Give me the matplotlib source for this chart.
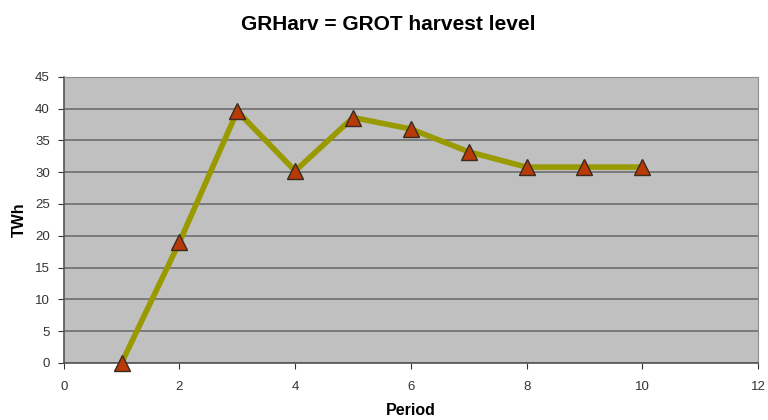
import matplotlib.pyplot as plt

# GROT harvest level per period (TWh)
period = [1, 2, 3, 4, 5, 6, 7, 8, 9, 10]
twh = [0, 19, 39.6, 30.2, 38.6, 36.8, 33.2, 30.8, 30.8, 30.8]

xticks = [0, 2, 4, 6, 8, 10, 12]
yticks = [0, 5, 10, 15, 20, 25, 30, 35, 40, 45]

plt.rcParams['font.family'] = ['Liberation Sans', 'DejaVu Sans']

fig = plt.figure(figsize=(7.68, 4.2), dpi=100)
ax = fig.add_axes([0.083, 0.136, 0.904, 0.681])
ax.set_facecolor('#c0c0c0')

ax.plot(period, twh, color='#999900', lw=4, marker='^', markersize=12,
        markerfacecolor='#b83a06', markeredgecolor='#3a2a20', markeredgewidth=1,
        zorder=3, clip_on=False)

ax.set_xlim(0, 12)
ax.set_ylim(0, 45)
ax.set_xticks(xticks)
ax.set_yticks(yticks)
ax.yaxis.grid(True, color='#6e6e6e', lw=1.2)
ax.set_axisbelow(True)

for s in ['top', 'right']:
    ax.spines[s].set_color('#8c8c8c')
for s in ['left', 'bottom']:
    ax.spines[s].set_color('#555555')
    ax.spines[s].set_linewidth(1.2)

ax.tick_params(direction='out', length=4, labelsize=9.5, colors='#333333', pad=6)
ax.tick_params(axis='x', pad=9)

ax.set_xlabel('Period', fontsize=11.5, fontweight='bold', labelpad=7)
ax.set_ylabel('TWh', fontsize=11.5, fontweight='bold', labelpad=6)
fig.suptitle('GRHarv = GROT harvest level', x=0.505, y=0.965,
             fontsize=15, fontweight='bold')

fig.savefig('out.png', dpi=100)
